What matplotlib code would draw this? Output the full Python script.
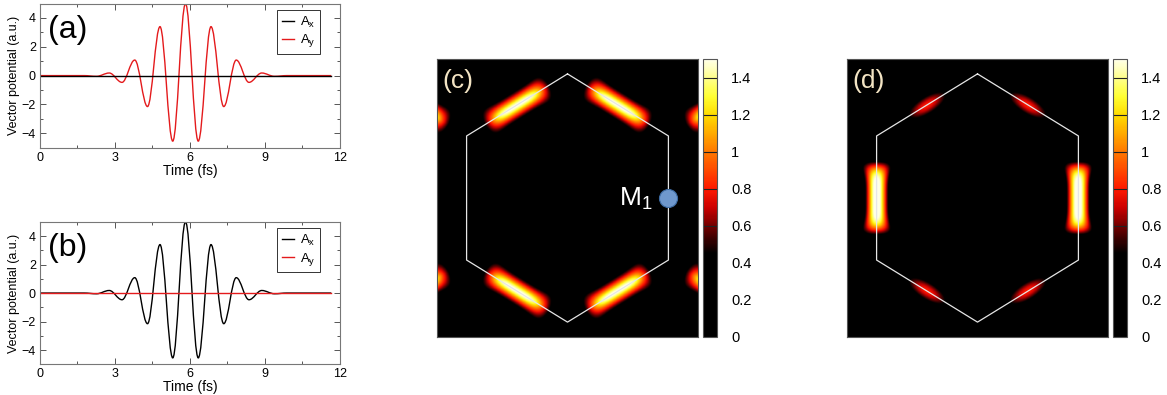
import numpy as np
import matplotlib
matplotlib.use("Agg")
import matplotlib.pyplot as plt
from matplotlib.path import Path
from matplotlib.patches import PathPatch
from matplotlib.lines import Line2D
from matplotlib.colors import LinearSegmentedColormap

plt.rcParams['font.family'] = ['Liberation Sans', 'DejaVu Sans']

# ---------------- data ----------------
# extrema (knots) of the vector-potential pulse
pulse_t = [0.0, 1.76, 2.26, 2.77, 3.28, 3.79, 4.30, 4.80, 5.31, 5.82,
           6.33, 6.84, 7.35, 7.85, 8.36, 8.87, 9.38, 9.88, 11.65]
pulse_v = [0.0, 0.0, -0.05, 0.18, -0.47, 1.08, -2.15, 3.40, -4.55, 5.00,
           -4.55, 3.40, -2.15, 1.08, -0.47, 0.18, -0.05, 0.0, 0.0]
flat_t = [0.0, 11.65]
flat_v = [0.0, 0.0]

x_ticks = [0, 3, 6, 9, 12]
y_ticks = [-4, -2, 0, 2, 4]
cbar_ticks = [0, 0.2, 0.4, 0.6, 0.8, 1.0, 1.2, 1.4]
cbar_labels = ['0', '0.2', '0.4', '0.6', '0.8', '1', '1.2', '1.4']
cbar_bands = [0.6, 0.8, 1.0, 1.2, 1.4]

# hexagonal Brillouin zone (pointy top), vertices
hex_x = [0.0, 0.866, 0.866, 0.0, -0.866, -0.866, 0.0]
hex_y = [1.0, 0.5, -0.5, -1.0, -0.5, 0.5, 1.0]
m1_point = (0.866, 0.0)

# hot spots: centre x, centre y, edge angle (deg), amplitude, half length,
# half width, perpendicular profile exponent
spots_c_x = [-0.433, 0.433, -0.433, 0.433, 1.299, 1.299, -1.299, -1.299]
spots_c_y = [0.75, 0.75, -0.75, -0.75, 0.75, -0.75, 0.75, -0.75]
spots_c_ang = [30, -30, -30, 30, 30, -30, -30, 30]
spots_c_amp = [1.53] * 8
spots_c_len = [0.30] * 8
spots_c_wid = [0.092] * 8
spots_c_exp = [1.6] * 8

spots_d_x = [0.866, -0.866]
spots_d_y = [0.0, 0.0]
spots_d_ang = [90, 90]
spots_d_amp = [1.6, 1.6]
spots_d_len = [0.28, 0.28]
spots_d_wid = [0.088, 0.088]
spots_d_exp = [2.2, 2.2]

# weak round spots in (d)
weak_d_x = [-0.433, 0.433, -0.433, 0.433]
weak_d_y = [0.75, 0.75, -0.75, -0.75]
weak_d_ang = [30, -30, -30, 30]
weak_d_amp = [0.8] * 4
weak_d_len = [0.23] * 4
weak_d_wid = [0.085] * 4

# ---------------- helpers ----------------
def pulse_path(ts, vs, k=0.3642):
    verts = [(ts[0], vs[0])]
    codes = [Path.MOVETO]
    for i in range(len(ts) - 1):
        h = ts[i + 1] - ts[i]
        verts += [(ts[i] + k * h, vs[i]), (ts[i + 1] - k * h, vs[i + 1]), (ts[i + 1], vs[i + 1])]
        codes += [Path.CURVE4] * 3
    return Path(verts, codes)


X, Y = np.meshgrid(np.linspace(-1.12, 1.12, 450), np.linspace(-1.12, 1.12, 450))


def rot(cx, cy, ang):
    a = np.deg2rad(ang)
    dx, dy = X - cx, Y - cy
    return dx * np.cos(a) + dy * np.sin(a), -dx * np.sin(a) + dy * np.cos(a)


def bar_field(cx, cy, ang, amp, ln, wd, ex, flare, along=5):
    Z = np.zeros_like(X)
    for i in range(len(cx)):
        s, n = rot(cx[i], cy[i], ang[i])
        w = wd[i] * (1 + flare * (s / ln[i]) ** 4)
        Z += amp[i] * np.exp(-np.abs(s / ln[i]) ** along) * np.exp(-np.abs(n / w) ** ex[i])
    return Z


def blob_field(cx, cy, ang, amp, ln, wd):
    Z = np.zeros_like(X)
    for i in range(len(cx)):
        s, n = rot(cx[i], cy[i], ang[i])
        Z += amp[i] * np.exp(-(s / ln[i]) ** 2 - (n / wd[i]) ** 2)
    return Z


cmap = LinearSegmentedColormap.from_list('bz', [
    (0.0, (0, 0, 0)), (0.45 / 1.5, (0, 0, 0)), (0.52 / 1.5, (0.2, 0, 0)),
    (0.6 / 1.5, (0.45, 0, 0)), (0.7 / 1.5, (0.8, 0, 0)), (0.8 / 1.5, (1, 0.1, 0)),
    (1.0 / 1.5, (1, 0.47, 0)), (1.2 / 1.5, (1, 0.86, 0)), (1.3 / 1.5, (1, 1, 0.2)),
    (1.4 / 1.5, (1, 1, 0.55)), (1.0, (1, 1, 0.92))])

W, H = 1167, 395
fig = plt.figure(figsize=(W / 100, H / 100), dpi=100)


def fr(x0, y0, x1, y1):
    return [x0 / W, 1 - y1 / H, (x1 - x0) / W, (y1 - y0) / H]

# ---------------- line panels ----------------
for label, rect, black_is_pulse in [
        ('(a)', fr(40, 3.6, 340, 147.6), False),
        ('(b)', fr(40, 221.8, 340, 364.3), True)]:
    ax = fig.add_axes(rect)
    if black_is_pulse:
        ax.add_patch(PathPatch(pulse_path(pulse_t, pulse_v), fill=False, edgecolor='black', lw=1.0))
        ax.plot(flat_t, flat_v, color='#e41a1c', lw=1.0)
    else:
        ax.plot(flat_t, flat_v, color='black', lw=1.0)
        ax.add_patch(PathPatch(pulse_path(pulse_t, pulse_v), fill=False, edgecolor='#e41a1c', lw=1.0))
    ax.set_xlim(0, 12)
    ax.set_ylim(-5, 5)
    ax.set_xticks(x_ticks)
    ax.set_yticks(y_ticks)
    ax.set_xticks([1.5, 4.5, 7.5, 10.5], minor=True)
    ax.set_yticks([-3, -1, 1, 3], minor=True)
    ax.tick_params(which='both', direction='in', top=True, right=True, labelsize=9,
                   color='#555555', width=0.7)
    ax.tick_params(which='major', length=4.5, pad=3)
    ax.tick_params(which='minor', length=2.5)
    for sp in ax.spines.values():
        sp.set_color('#777777')
        sp.set_linewidth(0.8)
    ax.set_xlabel('Time (fs)', fontsize=10, labelpad=0)
    ax.set_ylabel('Vector potential (a.u.)', fontsize=9, labelpad=1)
    ax.text(0.027, 0.92, label, transform=ax.transAxes, fontsize=23, va='top', ha='left')
    handles = [Line2D([], [], color='black', lw=1.0), Line2D([], [], color='#e41a1c', lw=1.0)]
    leg = ax.legend(handles, [r'$\mathregular{A_x}$', r'$\mathregular{A_y}$'], loc='upper right',
                    bbox_to_anchor=(0.935, 0.955), borderaxespad=0, fancybox=False,
                    edgecolor='#333333', framealpha=1, fontsize=9.5, handlelength=0.9,
                    handletextpad=0.5, borderpad=0.35, labelspacing=0.2)
    leg.get_frame().set_linewidth(0.7)

# ---------------- BZ panels ----------------
Zc = bar_field(spots_c_x, spots_c_y, spots_c_ang, spots_c_amp, spots_c_len, spots_c_wid,
               spots_c_exp, flare=0.9, along=4)
Zd = (bar_field(spots_d_x, spots_d_y, spots_d_ang, spots_d_amp, spots_d_len, spots_d_wid,
                spots_d_exp, flare=0.9, along=5)
      + blob_field(weak_d_x, weak_d_y, weak_d_ang, weak_d_amp, weak_d_len, weak_d_wid))

for label, Z, x0, show_m1 in [('(c)', Zc, 437, True), ('(d)', Zd, 847, False)]:
    ax = fig.add_axes(fr(x0, 59, x0 + 261, 337))
    im = ax.imshow(Z, extent=[-1.12, 1.12, -1.12, 1.12], origin='lower', cmap=cmap,
                   vmin=0, vmax=1.5, aspect='auto', interpolation='bilinear')
    ax.plot(hex_x, hex_y, color='#e6e6e6', lw=0.9)
    ax.set_xlim(-1.12, 1.12)
    ax.set_ylim(-1.12, 1.12)
    ax.set_xticks([])
    ax.set_yticks([])
    for sp in ax.spines.values():
        sp.set_color('#555555')
        sp.set_linewidth(0.8)
    ax.text(0.022, 0.965, label, transform=ax.transAxes, fontsize=19, va='top', ha='left',
            color='#f3e4c4')
    if show_m1:
        ax.plot([m1_point[0]], [m1_point[1]], 'o', ms=13, color='#6f98cd', mec='#3d6ba3', mew=0.8)
        ax.text(m1_point[0] - 0.14, m1_point[1] - 0.01, r'$\mathregular{M_1}$', color='white',
                fontsize=19, ha='right', va='center')
    cax = fig.add_axes(fr(x0 + 266, 59, x0 + 280, 337))
    cb = fig.colorbar(im, cax=cax, ticks=cbar_ticks)
    cb.ax.set_yticklabels(cbar_labels)
    cb.ax.tick_params(length=0, pad=10, labelsize=10.5)
    cb.outline.set_edgecolor('#555555')
    cb.outline.set_linewidth(0.8)
    for v in cbar_bands:
        cax.axhline(v, color='#222222', lw=0.8)

fig.savefig('out.png', dpi=100)
